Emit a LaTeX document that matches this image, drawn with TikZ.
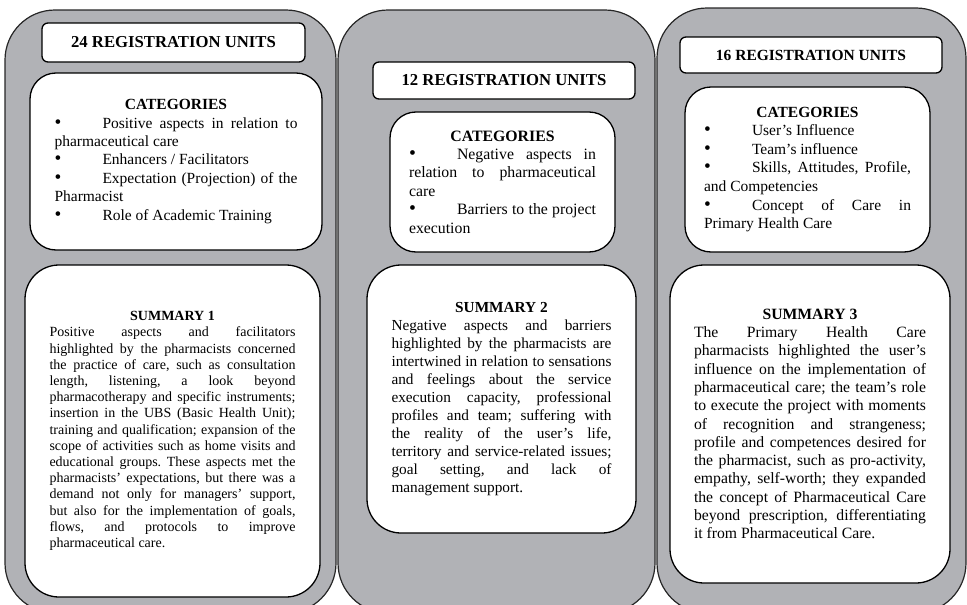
\documentclass[tikz,border=0pt]{standalone}
\usepackage{fontspec}
\setmainfont{Liberation Serif}
\frenchspacing
\definecolor{colgray}{HTML}{B1B2B6}
\definecolor{edgecol}{HTML}{262626}
\newcommand\jl[1]{\makebox[\hsize][s]{\spaceskip=0pt\xspaceskip=0pt #1}\\}
\newcommand\bul{\makebox[48pt][l]{\scalebox{1.25}{\textbullet}}}
\newcommand\hd[1]{\makebox[\hsize][c]{\bfseries #1}\\}
\tikzset{
  column/.style={draw=edgecol, line width=1.2pt, fill=colgray, rounded corners=50pt},
  titlebox/.style={draw=black, line width=1.3pt, fill=white, rounded corners=6pt, inner sep=0pt},
  catbox/.style={draw=black, line width=1.3pt, fill=white, rounded corners=26pt, inner sep=0pt, align=justify},
  sumbox/.style={draw=black, line width=1.3pt, fill=white, rounded corners=34pt, inner sep=0pt, align=justify}
}
\begin{document}
\begin{tikzpicture}[x=1pt,y=-1pt]
\useasboundingbox (0,0) rectangle (967,605);
% columns
\draw[column] (5,10) rectangle (336,613);
\draw[column] (338,10) rectangle (655,613);
\draw[column] (657,8) rectangle (966,613);
% titles
\node[titlebox, minimum width=263pt, minimum height=39pt, font=\fontsize{16.7}{20}\selectfont\bfseries] (t1) at (173.5,42.5) {24 REGISTRATION UNITS};
\node[titlebox, minimum width=262pt, minimum height=37pt, font=\fontsize{16.7}{20}\selectfont\bfseries] (t2) at (504,80.5) {12 REGISTRATION UNITS};
\node[titlebox, minimum width=262pt, minimum height=36pt, font=\fontsize{15.5}{19}\selectfont\bfseries] (t3) at (811,55) {16 REGISTRATION UNITS};
% categories
\node[catbox, minimum width=292pt, minimum height=177pt, text width=243pt, font=\fontsize{15.5}{18.4}\selectfont] (c1) at (176,161.5) {%
\hd{CATEGORIES}
\jl{\bul Positive aspects in relation to}
pharmaceutical care\\
\bul Enhancers / Facilitators\\
\jl{\bul Expectation (Projection) of the}
Pharmacist\\
\bul Role of Academic Training};
\node[catbox, minimum width=225pt, minimum height=140pt, text width=187pt, font=\fontsize{15.8}{18.4}\selectfont] (c2) at (502.5,182) {%
\hd{CATEGORIES}
\jl{\bul Negative aspects in}
\jl{relation to pharmaceutical}
care\\
\jl{\bul Barriers to the project}
execution};
\node[catbox, minimum width=245pt, minimum height=165pt, text width=207pt, font=\fontsize{15.5}{18.6}\selectfont] (c3) at (807.5,169.5) {%
\hd{CATEGORIES}
\bul User’s Influence\\
\bul Team’s influence\\
\jl{\bul Skills, Attitudes, Profile,}
and Competencies\\
\jl{\bul Concept of Care in}
Primary Health Care};
% summaries
\node[sumbox, minimum width=295pt, minimum height=332pt, text width=246pt, font=\fontsize{14}{16.2}\selectfont] (s1) at (172.5,431) {%
\hd{SUMMARY 1}
\jl{Positive aspects and facilitators}
\jl{highlighted by the pharmacists concerned}
\jl{the practice of care, such as consultation}
\jl{length, listening, a look beyond}
\jl{pharmacotherapy and specific instruments;}
\jl{insertion in the UBS (Basic Health Unit);}
\jl{training and qualification; expansion of the}
\jl{scope of activities such as home visits and}
\jl{educational groups. These aspects met the}
\jl{pharmacists’ expectations, but there was a}
\jl{demand not only for managers’ support,}
\jl{but also for the implementation of goals,}
\jl{flows, and protocols to improve}
pharmaceutical care.};
\node[sumbox, minimum width=269pt, minimum height=268pt, text width=220pt, font=\fontsize{15.3}{18}\selectfont] (s2) at (501.5,399) {%
\hd{SUMMARY 2}
\jl{Negative aspects and barriers}
\jl{highlighted by the pharmacists are}
\jl{intertwined in relation to sensations}
\jl{and feelings about the service}
\jl{execution capacity, professional}
\jl{profiles and team; suffering with}
\jl{the reality of the user’s life,}
\jl{territory and service-related issues;}
\jl{goal setting, and lack of}
management support.};
\node[sumbox, minimum width=280pt, minimum height=318pt, text width=232pt, font=\fontsize{15.7}{18.3}\selectfont] (s3) at (810,424) {%
\hd{SUMMARY 3}
\jl{The Primary Health Care}
\jl{pharmacists highlighted the user’s}
\jl{influence on the implementation of}
\jl{pharmaceutical care; the team’s role}
\jl{to execute the project with moments}
\jl{of recognition and strangeness;}
\jl{profile and competences desired for}
\jl{the pharmacist, such as pro-activity,}
\jl{empathy, self-worth; they expanded}
\jl{the concept of Pharmaceutical Care}
\jl{beyond prescription, differentiating}
it from Pharmaceutical Care.};
\end{tikzpicture}
\end{document}
